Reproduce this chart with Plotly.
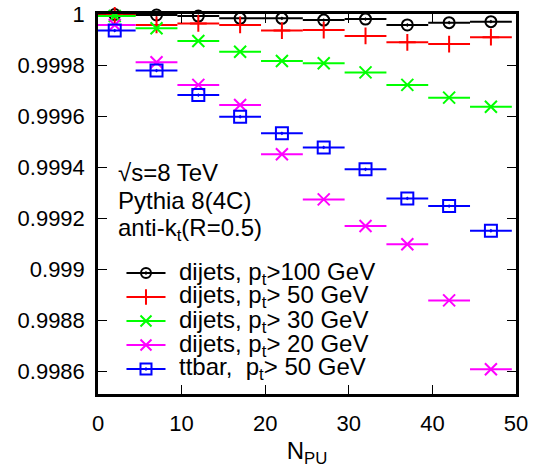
import plotly.graph_objects as go

# ---- data ----
npu = [2, 7, 12, 17, 22, 27, 32, 37, 42, 47]
bin_half = [2.5, 2.5, 2.5, 2.5, 2.5, 2.5, 2.5, 2.5, 2.5, 2.5]

dijets_100 = [0.999998, 0.999996, 0.999992, 0.999983, 0.999983, 0.999976, 0.99998, 0.999957, 0.999966, 0.99997]
dijets_50 = [0.999995, 0.999957, 0.999963, 0.999957, 0.999935, 0.999937, 0.999914, 0.999889, 0.999882, 0.999909]
dijets_30 = [0.999992, 0.999944, 0.999894, 0.999852, 0.999816, 0.999807, 0.999771, 0.999722, 0.999672, 0.999636]
dijets_20 = [0.999957, 0.999811, 0.999722, 0.999643, 0.99945, 0.999273, 0.999169, 0.999097, 0.998877, 0.998607]
ttbar_50 = [0.999935, 0.999778, 0.999682, 0.999597, 0.999532, 0.999477, 0.999391, 0.999277, 0.999247, 0.99915]

series_values = [dijets_100, dijets_50, dijets_30, dijets_20, ttbar_50]
series_labels = [
    "dijets, p<sub>t</sub>>100 GeV",
    "dijets, p<sub>t</sub>> 50 GeV",
    "dijets, p<sub>t</sub>> 30 GeV",
    "dijets, p<sub>t</sub>> 20 GeV",
    "ttbar,\u00a0 p<sub>t</sub>> 50 GeV",
]
info_lines = ["\u221as=8 TeV", "Pythia 8(4C)", "anti-k<sub>t</sub>(R=0.5)"]

x_ticks = [0, 10, 20, 30, 40, 50]
y_ticks = [0.9986, 0.9988, 0.999, 0.9992, 0.9994, 0.9996, 0.9998, 1.0]
y_ticktext = ["0.9986", "0.9988", "0.999", "0.9992", "0.9994", "0.9996", "0.9998", "1"]

# ---- styles ----
colors = ["#000000", "#ff0000", "#00ff00", "#ff00ff", "#0000ff"]
symbols = ["circle-open-dot", "cross-thin-open", "x-thin-open", "x-thin-open", "square-open-dot"]
sizes = [11, 12, 12, 12, 12]
FONT = "Liberation Sans, Arial, Helvetica, sans-serif"
FS = 22
FT = 24

fig = go.Figure()

for vals, col, sym, sz in zip(series_values, colors, symbols, sizes):
    fig.add_trace(go.Scatter(
        x=npu, y=vals, mode="markers",
        marker=dict(symbol=sym, size=sz, color=col, line=dict(color=col, width=2)),
        error_x=dict(type="data", array=bin_half, symmetric=True, color=col, thickness=2, width=0),
        cliponaxis=False, showlegend=False, hoverinfo="skip",
    ))

# manual legend (samples on an overlay axis in plot-fraction units)
leg_rows = [0.3184, 0.2553, 0.1921, 0.1289, 0.0658]
leg_x = 0.1148
leg_half = 0.0467
for row, col, sym, sz, lab in zip(leg_rows, colors, symbols, sizes, series_labels):
    fig.add_trace(go.Scatter(
        x=[leg_x], y=[row], xaxis="x2", yaxis="y2", mode="markers",
        marker=dict(symbol=sym, size=sz - 1, color=col, line=dict(color=col, width=2)),
        error_x=dict(type="data", array=[leg_half], symmetric=True, color=col, thickness=2, width=0),
        cliponaxis=False, showlegend=False, hoverinfo="skip",
    ))
    fig.add_annotation(x=0.189, y=row, xref="paper", yref="paper", text=lab,
                       showarrow=False, xanchor="left", yanchor="middle",
                       font=dict(family=FONT, size=FT, color="black"))

info_y = [0.5816, 0.5105, 0.434]
for yy, t in zip(info_y, info_lines):
    fig.add_annotation(x=0.043, y=yy, xref="paper", yref="paper", text=t,
                       showarrow=False, xanchor="left", yanchor="middle",
                       font=dict(family=FONT, size=FT, color="black"))

axis_common = dict(
    showline=True, linecolor="black", linewidth=2.5, mirror="allticks",
    ticks="inside", ticklen=9, tickwidth=1, tickcolor="black",
    showgrid=False, zeroline=False, automargin=False,
    tickfont=dict(family=FONT, size=FS, color="black"),
)

fig.update_layout(
    width=534, height=468,
    margin=dict(l=98, r=18, t=14, b=74),
    paper_bgcolor="white", plot_bgcolor="white",
    font=dict(family=FONT, size=FS, color="black"),
    xaxis=dict(range=[0, 50], tickvals=x_ticks, ticklabelstandoff=8,
               title=dict(text="N<sub>PU</sub>", standoff=10, font=dict(family=FONT, size=FT)),
               **axis_common),
    yaxis=dict(range=[0.99851, 1.0], tickvals=y_ticks, ticktext=y_ticktext, ticklabelstandoff=6,
               **axis_common),
    xaxis2=dict(overlaying="x", range=[0, 1], visible=False, anchor="y2"),
    yaxis2=dict(overlaying="y", range=[0, 1], visible=False, anchor="x2"),
    showlegend=False,
)

fig.write_html("out.html")
